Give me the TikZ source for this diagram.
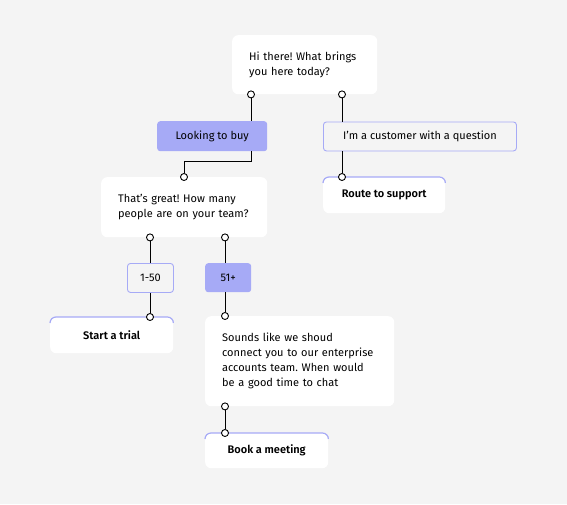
\documentclass[tikz,border=0pt]{standalone}
\usepackage{fontspec}
\setmainfont{Fira Sans}[BoldFont={Fira Sans SemiBold}]
\usepackage{tikz}
\usetikzlibrary{positioning,calc}
\definecolor{bg}{HTML}{F4F4F4}
\definecolor{peri}{HTML}{A6AAF6}
\frenchspacing
\tikzset{
  bubble/.style={fill=white,rounded corners=6pt,anchor=north west,align=left,
    inner xsep=17pt,inner ysep=0pt,font=\fontsize{11}{15}\selectfont},
  choice/.style={draw=peri,line width=0.9pt,fill=bg,rounded corners=3pt,anchor=north west,
    inner sep=0pt,font=\fontsize{11}{12}\selectfont},
  picked/.style={fill=peri,rounded corners=3pt,anchor=north west,
    inner sep=0pt,font=\fontsize{11}{12}\selectfont},
  outcome/.style={fill=white,rounded corners=6pt,anchor=north west,
    inner sep=0pt,font=\fontsize{11}{12}\selectfont\bfseries},
  port/.style={circle,draw,fill=white,inner sep=0pt,minimum size=7pt,line width=0.9pt},
  link/.style={line width=1pt}
}
\begin{document}
\begin{tikzpicture}[x=1pt,y=-1pt]
\fill[bg] (0,0) rectangle (567,504);
\useasboundingbox (0,0) rectangle (567,504);

\node[bubble,text width=111pt,minimum height=59pt] (hi) at (232,35) {Hi there! What brings\\you here today?};
\node[picked,minimum width=110pt,minimum height=30pt] (buy) at (157,121) {Looking to buy};
\node[choice,minimum width=193pt,minimum height=29pt] (customer) at (323,121.5) {I’m a customer with a question};
\node[outcome,minimum width=122pt,minimum height=36pt] (route) at (323,177) {Route to support};
\node[bubble,text width=132pt,minimum height=60pt] (great) at (101,177) {That’s great! How many\\people are on your team?};
\node[choice,minimum width=46pt,minimum height=29pt] (small) at (127,263) {1-50};
\node[picked,minimum width=46pt,minimum height=29pt] (large) at (205,263) {51+};
\node[outcome,minimum width=123pt,minimum height=36pt] (trial) at (50,317) {Start a trial};
\node[bubble,text width=155pt,minimum height=90pt] (sounds) at (205,316) {Sounds like we shoud\\connect you to our enterprise\\accounts team. When would\\be a good time to chat};
\node[outcome,minimum width=123pt,minimum height=35pt] (book) at (205,433) {Book a meeting};

\foreach \n in {route,trial,book}
  \draw[peri,line width=1.2pt,rounded corners=6pt] ([yshift=-6pt]\n.north west) -- (\n.north west) -- (\n.north east) -- ([yshift=-6pt]\n.north east);

\node[port] (hiA) at ($(hi.south west)+(19,0)$) {};
\node[port] (hiB) at ($(hi.south west)+(110,0)$) {};
\node[port] (routeIn) at ($(route.north west)+(19,0)$) {};
\node[port] (greatIn) at ($(great.north west)+(83,0)$) {};
\node[port] (greatA) at ($(great.south west)+(49,0)$) {};
\node[port] (greatB) at ($(great.south west)+(124,0)$) {};
\node[port] (trialIn) at ($(trial.north west)+(100,0)$) {};
\node[port] (soundsIn) at ($(sounds.north west)+(20,0)$) {};
\node[port] (soundsOut) at ($(sounds.south west)+(20,0)$) {};
\node[port] (bookIn) at ($(book.north west)+(20,0)$) {};

\draw[link] (hiA) -- (hiA |- buy.north);
\draw[link] (hiA |- buy.south) -- ++(0,10) -| (greatIn);
\draw[link] (hiB) -- (hiB |- customer.north);
\draw[link] (hiB |- customer.south) -- (routeIn);
\draw[link] (greatA) -- (greatA |- small.north);
\draw[link] (greatA |- small.south) -- (trialIn);
\draw[link] (greatB) -- (greatB |- large.north);
\draw[link] (greatB |- large.south) -- (soundsIn);
\draw[link] (soundsOut) -- (bookIn);
\end{tikzpicture}
\end{document}
